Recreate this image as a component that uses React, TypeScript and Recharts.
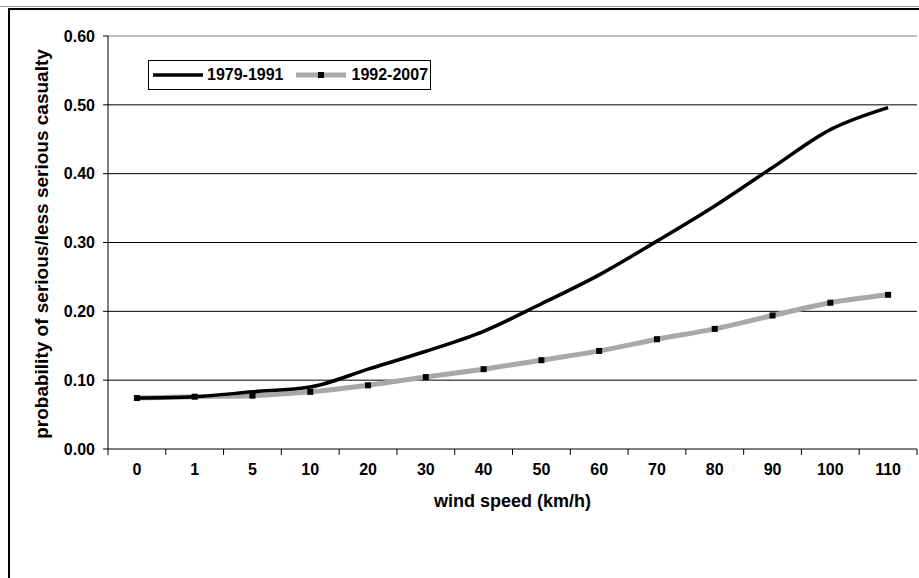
import { Line, LineChart, ReferenceLine, XAxis, YAxis } from "recharts";

const WIND_SPEEDS = ["0", "1", "5", "10", "20", "30", "40", "50", "60", "70", "80", "90", "100", "110"];
const PERIOD_1979_1991 = [0.074, 0.076, 0.083, 0.09, 0.116, 0.142, 0.171, 0.211, 0.253, 0.302, 0.353, 0.409, 0.464, 0.496];
const PERIOD_1992_2007 = [0.074, 0.076, 0.0775, 0.083, 0.0925, 0.1045, 0.116, 0.129, 0.1425, 0.1595, 0.1745, 0.194, 0.2125, 0.224];
const Y_TICKS = [0, 0.1, 0.2, 0.3, 0.4, 0.5, 0.6];

const W = 919;
const H = 578;
const PLOT_LEFT = 108;
const PLOT_RIGHT = 917;
const PLOT_TOP = 36;
const PLOT_BOTTOM = 449;
const FONT = "'Liberation Sans', Arial, sans-serif";

const rows = WIND_SPEEDS.map((speed, i) => ({
  speed,
  a: PERIOD_1979_1991[i],
  b: PERIOD_1992_2007[i],
}));

// excel-style category axis: labels in the middle, tick marks on the band edges
function CategoryTick(props: any) {
  const { x, y, payload, index } = props;
  const band = (PLOT_RIGHT - PLOT_LEFT) / WIND_SPEEDS.length;
  const isLast = index === WIND_SPEEDS.length - 1;
  return (
    <g>
      <line x1={x - band / 2} x2={x - band / 2} y1={PLOT_BOTTOM} y2={PLOT_BOTTOM + 6} stroke="#000" />
      {isLast && <line x1={x + band / 2} x2={x + band / 2} y1={PLOT_BOTTOM} y2={PLOT_BOTTOM + 6} stroke="#000" />}
      <text
        x={x}
        y={y}
        dy="0.71em"
        textAnchor="middle"
        fontFamily={FONT}
        fontWeight="bold"
        fontSize={16}
        fill="#000"
      >
        {payload.value}
      </text>
    </g>
  );
}

function SquareDot(props: any) {
  const { cx, cy } = props;
  if (cx == null || cy == null) return null;
  return <rect x={cx - 3} y={cy - 3} width={6} height={6} fill="#000" />;
}

function LegendBox() {
  return (
    <div
      style={{
        position: "absolute",
        left: 148,
        top: 60,
        width: 281,
        height: 28,
        border: "1px solid #000",
        background: "#fff",
        display: "flex",
        alignItems: "center",
        fontFamily: FONT,
        fontWeight: "bold",
        fontSize: 16,
        color: "#000",
      }}
    >
      <svg width={58} height={10} style={{ marginLeft: 4 }}>
        <line x1={0} x2={50} y1={5} y2={5} stroke="#000" strokeWidth={3.5} />
      </svg>
      <span style={{ marginLeft: -4 }}>1979-1991</span>
      <svg width={56} height={10} style={{ marginLeft: 12 }}>
        <line x1={0} x2={50} y1={5} y2={5} stroke="#a8a8a8" strokeWidth={5} />
        <rect x={22} y={2} width={6} height={6} fill="#000" />
      </svg>
      <span>1992-2007</span>
    </div>
  );
}

export default function App() {
  return (
    <div
      style={{
        position: "absolute",
        left: 0,
        top: 0,
        width: W,
        height: H,
        overflow: "hidden",
        background: "#fff",
      }}
    >
      <div
        style={{
          position: "absolute",
          left: 8,
          top: 8,
          width: W,
          height: H,
          borderLeft: "2px solid #000",
          borderTop: "2px solid #000",
        }}
      />
      <div
        style={{
          position: "absolute",
          left: 0,
          top: 6,
          width: W,
          borderTop: "1px solid #999",
        }}
      />
      <LineChart
        width={W}
        height={H}
        data={rows}
        margin={{ top: PLOT_TOP, right: W - PLOT_RIGHT, bottom: H - PLOT_BOTTOM - 40, left: 0 }}
        style={{ position: "absolute", left: 0, top: 0 }}
      >
        {Y_TICKS.slice(1).map((t) => (
          <ReferenceLine key={t} y={t} stroke={t === 0.6 ? "#808080" : "#000"} strokeWidth={1} />
        ))}
        <XAxis
          dataKey="speed"
          scale="band"
          height={40}
          axisLine={{ stroke: "#000" }}
          tickLine={false}
          tickSize={0}
          tickMargin={15}
          interval={0}
          tick={<CategoryTick />}
        />
        <YAxis
          width={PLOT_LEFT}
          domain={[0, 0.6]}
          ticks={Y_TICKS}
          interval={0}
          axisLine={{ stroke: "#000" }}
          tickLine={{ stroke: "#000" }}
          tickSize={5}
          tickMargin={8}
          tickFormatter={(v: number) => v.toFixed(2)}
          tick={{ fill: "#000", fontFamily: FONT, fontWeight: "bold", fontSize: 16 }}
        />
        <YAxis
          yAxisId="frame"
          orientation="right"
          width={0}
          domain={[0, 0.6]}
          tick={false}
          tickLine={false}
          axisLine={{ stroke: "#808080" }}
        />
        <Line
          type="monotone"
          dataKey="b"
          name="1992-2007"
          stroke="#a8a8a8"
          strokeWidth={5}
          dot={<SquareDot />}
          activeDot={false}
          isAnimationActive={false}
        />
        <Line
          type="monotone"
          dataKey="a"
          name="1979-1991"
          stroke="#000"
          strokeWidth={3.5}
          dot={false}
          activeDot={false}
          isAnimationActive={false}
        />
      </LineChart>
      <LegendBox />
      <div
        style={{
          position: "absolute",
          left: PLOT_LEFT,
          width: PLOT_RIGHT - PLOT_LEFT,
          top: 491,
          textAlign: "center",
          fontFamily: FONT,
          fontWeight: "bold",
          fontSize: 18,
          color: "#000",
        }}
      >
        wind speed (km/h)
      </div>
      <div
        style={{
          position: "absolute",
          left: 42,
          top: 244,
          transform: "translate(-50%, -50%) rotate(-90deg)",
          whiteSpace: "nowrap",
          fontFamily: FONT,
          fontWeight: "bold",
          fontSize: 19,
          color: "#000",
        }}
      >
        probability of serious/less serious casualty
      </div>
    </div>
  );
}
